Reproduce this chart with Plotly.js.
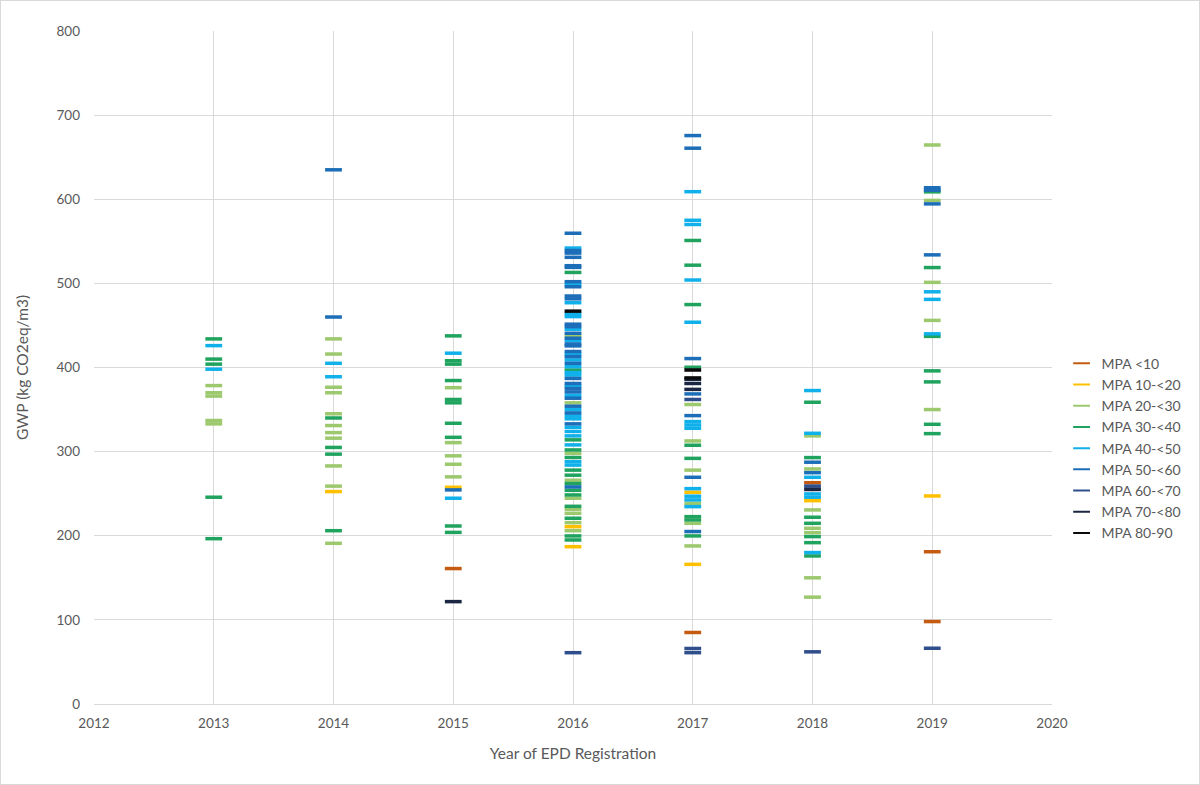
<!DOCTYPE html>
<html>
<head>
<meta charset="utf-8">
<script src="https://cdn.plot.ly/plotly-3.0.1.min.js"></script>
<style>
  html, body { margin: 0; padding: 0; background: #fff; }
  #chart { width: 1200px; height: 785px; box-sizing: border-box; border: 1px solid #D9D9D9; }
</style>
</head>
<body>
<div id="chart"></div>
<script>
// Years (x categories)
const years = [2013, 2014, 2015, 2016, 2017, 2018, 2019];

// Series names and colours
const seriesNames = ["MPA <10", "MPA 10-<20", "MPA 20-<30", "MPA 30-<40", "MPA 40-<50",
                     "MPA 50-<60", "MPA 60-<70", "MPA 70-<80", "MPA 80-90"];
const seriesColors = ["#C55A11", "#FFC000", "#9CC86E", "#20A35E", "#10B0EA",
                      "#1C6EB8", "#2F4E8C", "#1B2642", "#0A0A0A"];

// GWP values (kg CO2eq/m3), one list per year (aligned with `years`)
const gwpMpaLt10 = [[], [], [161], [], [85], [263], [181, 98]];
const gwpMpa10 = [[], [252.5], [257.6], [210.8, 187], [251.7, 166], [241.7], [247.3]];
const gwpMpa20 = [
  [378.5, 370, 366, 337, 333],
  [434, 416, 376.5, 370, 345, 331, 322.6, 316, 283, 259, 191],
  [376, 310.7, 295, 285, 270],
  [438, 358, 298, 266, 244.6, 231.5, 226.7, 215.6, 206],
  [356, 312.7, 278, 238.6, 214.8, 187.9],
  [318.7, 279.4, 230.7, 208.9, 203.7, 150, 127],
  [664.5, 598.6, 501.2, 456, 350]
];
const gwpMpa30 = [
  [434, 410, 404, 245.8, 196.5],
  [340, 305, 297, 206],
  [437.6, 408, 404, 384.5, 362, 358, 333.7, 317, 211.6, 204],
  [513, 397, 314, 302, 293, 278, 272, 262, 254, 248.5, 235, 220.8, 199.8, 195],
  [551, 521.6, 474.8, 400.3, 307.6, 292, 222.7, 218.8, 199.8],
  [358.7, 292.9, 222, 214.8, 199, 191.8, 176],
  [608.8, 518.8, 437, 396, 382.9, 332.5, 321.4]
];
const gwpMpa40 = [
  [426, 398],
  [405, 389],
  [417, 244.6],
  [542, 499, 477, 463.7, 460.5, 445.5, 432, 416, 409, 401, 394, 391, 378, 367, 350,
   342.5, 339, 329, 324, 318.7, 308, 288, 284],
  [609, 575, 570, 504, 453.8, 335.7, 331.7, 327.8, 256, 247, 242.6, 234.6],
  [372.6, 321.8, 269.5, 249.7, 245.8, 180],
  [490, 481, 440]
];
const gwpMpa50 = [
  [],
  [635, 460],
  [254.5],
  [559.6, 539, 536, 531, 521, 519, 502, 496, 485, 481.6, 451.5, 448.6, 440.7, 434.8,
   428, 425.7, 419, 413, 405, 387, 381, 375, 371, 363.5, 354, 346, 333, 258],
  [675.7, 660.7, 410.6, 368.6, 342.8, 269.5, 205],
  [287.4, 275],
  [613.7, 610.8, 594.5, 533.9]
];
const gwpMpa60 = [[], [], [], [61], [362, 66, 61], [259, 62], [66.3]];
const gwpMpa70 = [[], [], [121.7], [], [386, 381, 374], [255], []];
const gwpMpa80 = [[], [], [], [467], [397, 387.6], [], []];

const allSeries = [gwpMpaLt10, gwpMpa10, gwpMpa20, gwpMpa30, gwpMpa40,
                   gwpMpa50, gwpMpa60, gwpMpa70, gwpMpa80];

const textColor = "#595959";
const fontFamily = "Lato, 'Open Sans', 'Liberation Sans', sans-serif";

const traces = allSeries.map((series, i) => {
  const x = [], y = [];
  series.forEach((vals, j) => vals.forEach(v => { x.push(years[j]); y.push(v); }));
  return {
    type: "scatter",
    mode: "markers",
    name: seriesNames[i],
    x: x,
    y: y,
    marker: {
      symbol: "line-ew",
      size: 12,
      color: seriesColors[i],
      line: { color: seriesColors[i], width: 3.5 }
    },
    hoverinfo: "x+y+name"
  };
});

const layout = {
  width: 1198,
  height: 783,
  paper_bgcolor: "#ffffff",
  plot_bgcolor: "#ffffff",
  margin: { l: 93, r: 145, t: 30, b: 80 },
  font: { family: fontFamily, size: 13, color: textColor },
  showlegend: true,
  legend: {
    x: 1.01,
    xanchor: "left",
    y: 0.38,
    yanchor: "middle",
    font: { family: fontFamily, size: 14, color: textColor },
    itemsizing: "constant",
    bgcolor: "rgba(0,0,0,0)"
  },
  xaxis: {
    range: [2012, 2020],
    dtick: 1,
    tick0: 2012,
    showgrid: true,
    gridcolor: "#D9D9D9",
    gridwidth: 1,
    zeroline: false,
    showline: false,
    ticks: "",
    ticklabelstandoff: 9,
    tickfont: { size: 13.5, color: textColor },
    title: { text: "Year of EPD Registration", font: { size: 15.5, color: textColor }, standoff: 18 }
  },
  yaxis: {
    range: [0, 800],
    dtick: 100,
    showgrid: true,
    gridcolor: "#D9D9D9",
    gridwidth: 1,
    zeroline: true,
    zerolinecolor: "#D9D9D9",
    zerolinewidth: 1,
    showline: false,
    ticks: "",
    ticklabelstandoff: 13,
    tickfont: { size: 13.5, color: textColor },
    title: { text: "GWP (kg CO2eq/m3)", font: { size: 15.5, color: textColor }, standoff: 24 }
  }
};

Plotly.newPlot("chart", traces, layout, { displayModeBar: false, responsive: false });
</script>
</body>
</html>
